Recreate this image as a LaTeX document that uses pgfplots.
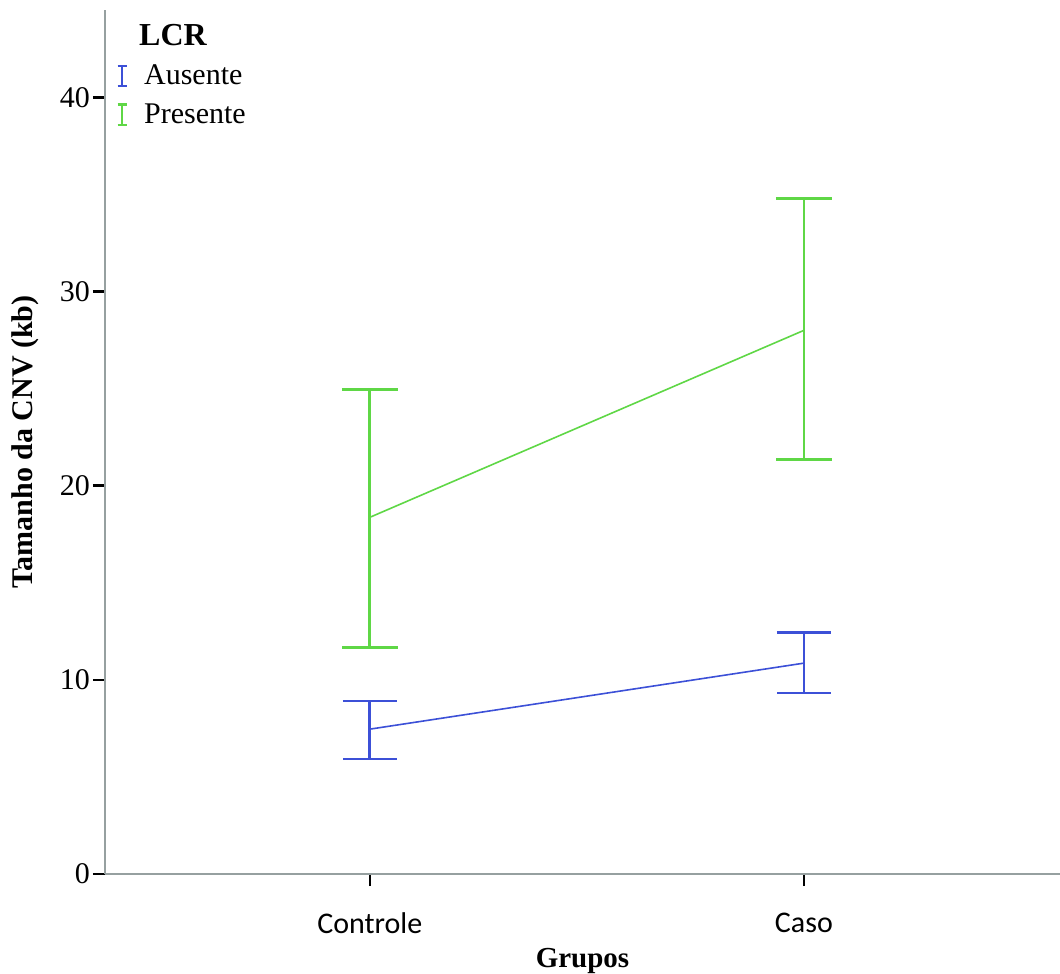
\documentclass[border=0pt]{standalone}
\usepackage{fontspec}
\setmainfont{Liberation Serif}
\newfontfamily\catfont{Carlito}
\usepackage{pgfplots}
\pgfplotsset{compat=1.18}
\definecolor{cblue}{RGB}{60,80,215}
\definecolor{cgreen}{RGB}{95,215,70}
\definecolor{axgray}{RGB}{150,160,160}
\begin{document}
\begin{tikzpicture}
\begin{axis}[
  scale only axis,
  width=477.5pt, height=432pt,
  xmin=-0.61, xmax=1.59,
  ymin=0, ymax=44.5,
  axis x line*=bottom, axis y line*=left,
  axis line style={draw=axgray, line width=1pt},
  every tick/.style={black, line width=1.2pt},
  tick align=outside,
  major tick length=6pt,
  xtick={0,1}, xticklabels={Controle,Caso},
  xticklabel style={font=\catfont\fontsize{15}{17}\selectfont, yshift=-10pt},
  ytick={0,10,20,30,40},
  yticklabel style={font=\fontsize{15}{17}\selectfont, xshift=2pt},
  /pgf/number format/assume math mode=true,
  xlabel={\textbf{Grupos}},
  xlabel style={font=\fontsize{14.5}{16}\selectfont, yshift=0pt},
  ylabel={\textbf{Tamanho da CNV (kb)}},
  ylabel style={font=\fontsize{15}{17}\selectfont, yshift=3.5pt},
  legend style={at={(axis description cs:0,1)}, anchor=north west, xshift=2.2pt, yshift=-3pt,
    draw=none, fill=none,
    font=\fontsize{15}{17}\selectfont, row sep=4pt, cells={anchor=west}},
  legend cell align=left,
  error bars/y dir=both,
  error bars/y explicit,
]
\addlegendimage{empty legend}
\addlegendentry{\hspace{-2.5pt}\fontsize{16}{18}\selectfont\textbf{LCR}\rule[-5pt]{0pt}{1pt}}
\addplot[cblue, line width=0.8pt, mark=none,
  error bars/error bar style={cblue, line width=1.3pt},
  error bars/error mark options={rotate=90, mark size=13.5pt, line width=1.3pt, cblue},
  legend image code/.code={\path (-0.1cm,0) (0.3cm,0); \draw[cblue, line width=1.2pt] (0cm,-0.18cm)--(0cm,0.18cm) (-0.08cm,-0.18cm)--(0.08cm,-0.18cm) (-0.08cm,0.18cm)--(0.08cm,0.18cm);}]
  coordinates {(0,7.46) += (0,1.44) -= (0,1.54)
               (1,10.86) += (0,1.59) -= (0,1.54)};
\addlegendentry{Ausente}
\addplot[cgreen, line width=0.8pt, mark=none,
  error bars/error bar style={cgreen, line width=1.3pt},
  error bars/error mark options={rotate=90, mark size=14pt, line width=1.3pt, cgreen},
  legend image code/.code={\path (-0.1cm,0) (0.3cm,0); \draw[cgreen, line width=1.2pt] (0cm,-0.18cm)--(0cm,0.18cm) (-0.08cm,-0.18cm)--(0.08cm,-0.18cm) (-0.08cm,0.18cm)--(0.08cm,0.18cm);}]
  coordinates {(0,18.37) += (0,6.59) -= (0,6.69)
               (1,28.0) += (0,6.79) -= (0,6.64)};
\addlegendentry{Presente}
\end{axis}
\pgfresetboundingbox
\path (current axis.south west) ++(-52.5pt,-50pt) coordinate (bl);
\path (current axis.north east) ++(0,5pt) coordinate (tr);
\path (bl) rectangle (tr);
\end{tikzpicture}
\end{document}
